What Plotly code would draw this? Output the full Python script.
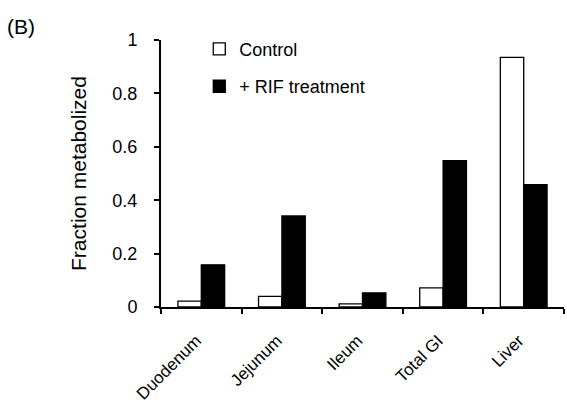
import plotly.graph_objects as go

categories = ["Duodenum", "Jejunum", "Ileum", "Total GI", "Liver"]
control = [0.022, 0.040, 0.012, 0.072, 0.935]
rif = [0.158, 0.341, 0.053, 0.548, 0.458]
y_ticks = [0, 0.2, 0.4, 0.6, 0.8, 1]
y_ticklabels = ["0", "0.2", "0.4", "0.6", "0.8", "1"]

FONT = "Arial, Liberation Sans, sans-serif"

fig = go.Figure()
fig.add_trace(go.Bar(x=categories, y=control, name="Control",
                     marker=dict(color="white", line=dict(color="black", width=1.3)),
                     legend="legend"))
fig.add_trace(go.Bar(x=categories, y=rif, name="+ RIF treatment",
                     marker=dict(color="black", line=dict(color="black", width=1.3)),
                     legend="legend2"))

fig.update_layout(
    width=567, height=406,
    margin=dict(l=161, r=3, t=39.5, b=98.5, autoexpand=False),
    paper_bgcolor="white", plot_bgcolor="white",
    font=dict(family=FONT, size=18, color="black"),
    barmode="group", bargap=0.42, bargroupgap=0,
    legend=dict(x=0.095, y=1.035, xanchor="left", yanchor="top",
                bgcolor="rgba(0,0,0,0)", font=dict(size=18)),
    legend2=dict(x=0.095, y=0.895, xanchor="left", yanchor="top",
                 bgcolor="rgba(0,0,0,0)", font=dict(size=18)),
    xaxis=dict(showline=True, linecolor="black", linewidth=2,
               ticks="outside", ticklen=5, tickwidth=2, tickcolor="black",
               tickson="boundaries", tickangle=-45, showgrid=False,
               ticklabelstandoff=15, ticklabelshift=-5,
               tickfont=dict(size=17), automargin=False),
    yaxis=dict(range=[0, 1], tickvals=y_ticks, ticktext=y_ticklabels,
               showline=True, linecolor="black", linewidth=2,
               ticks="outside", ticklen=5, tickwidth=2, tickcolor="black",
               showgrid=False, zeroline=False, ticklabelstandoff=13,
               tickfont=dict(size=18), automargin=False,
               title=dict(text="Fraction metabolized", standoff=20, font=dict(size=21))),
    annotations=[dict(text="(B)", x=0, y=1, xref="paper", yref="paper",
                      xanchor="left", yanchor="top", showarrow=False,
                      xshift=-156, yshift=27, font=dict(size=21))],
    showlegend=True,
)

fig.write_html("out.html")
